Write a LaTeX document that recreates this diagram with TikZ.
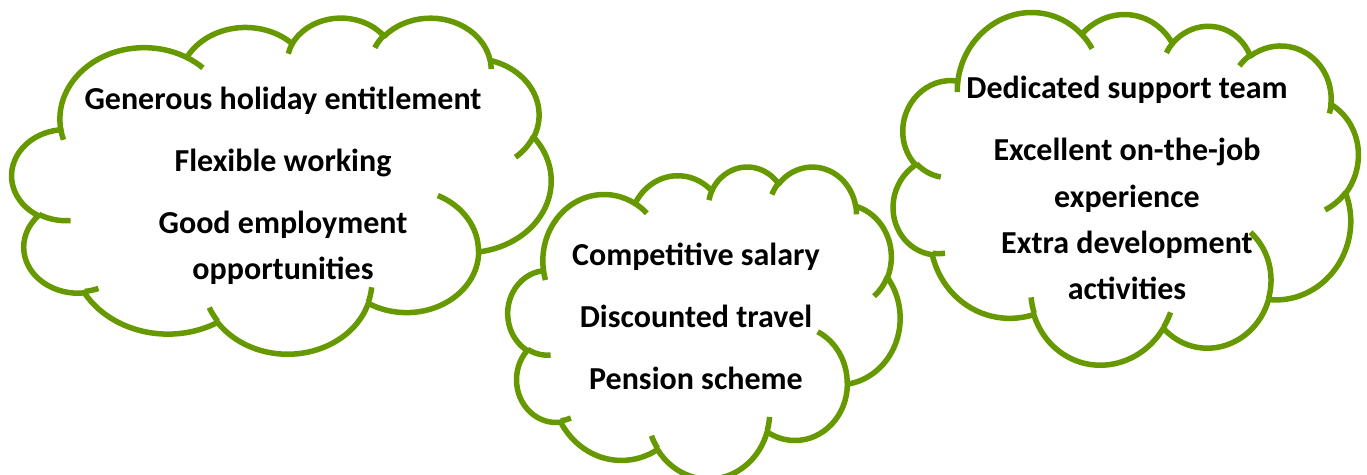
\documentclass[tikz,border=0pt]{standalone}
\usepackage{fontspec}
\setmainfont{Carlito}
\definecolor{cloudgreen}{RGB}{102,153,0}
\tikzset{
  declare function={
    vp(\a,\rx,\ry)=atan2(\rx*sin(\a),\ry*cos(\a));
    dp(\a,\s,\rx,\ry)=vp(\a+\s,\rx,\ry)-vp(\a,\rx,\ry)+360*round((\s-vp(\a+\s,\rx,\ry)+vp(\a,\rx,\ry))/360);
  },
  cloudline/.style={draw=cloudgreen, line width=5.5pt, line join=round},
  cloudtext/.style={font=\bfseries\fontsize{32}{38}\selectfont, text=black, inner sep=0pt, anchor=base},
}
\newcommand\officecloud{%
  \draw[cloudline] (39.00,143.70)
    arc[x radius=67.53, y radius=91.90, start angle={vp(-190.48748,67.53,91.90)}, delta angle={dp(-190.48748,123.78053,67.53,91.90)}]
    arc[x radius=53.33, y radius=72.67, start angle={vp(-144.10238,53.33,72.67)}, delta angle={dp(-144.10238,89.94523,53.33,72.67)}]
    arc[x radius=43.65, y radius=59.45, start angle={vp(-145.80792,43.65,59.45)}, delta angle={dp(-145.80792,99.72302,43.65,59.45)}]
    arc[x radius=48.57, y radius=65.95, start angle={vp(-130.98607,48.57,65.95)}, delta angle={dp(-130.98607,117.24173,48.57,65.95)}]
    arc[x radius=53.33, y radius=72.73, start angle={vp(-78.70888,53.33,72.73)}, delta angle={dp(-78.70888,109.02692,53.33,72.73)}]
    arc[x radius=67.75, y radius=92.20, start angle={vp(-46.26725,67.75,92.20)}, delta angle={dp(-46.26725,130.269,67.75,92.20)}]
    arc[x radius=57.85, y radius=78.67, start angle={vp(0.62502,57.85,78.67)}, delta angle={dp(0.62502,114.03333,57.85,78.67)}]
    arc[x radius=67.52, y radius=92.15, start angle={vp(22.4516,67.52,92.15)}, delta angle={dp(22.4516,115.17255,67.52,92.15)}]
    arc[x radius=77.20, y radius=105.43, start angle={vp(66.24263,77.20,105.43)}, delta angle={dp(66.24263,75.71102,77.20,105.43)}]
    arc[x radius=43.60, y radius=59.18, start angle={vp(-274.94208,43.60,59.18)}, delta angle={dp(-274.94208,146.73557,43.60,59.18)}]
    arc[x radius=43.45, y radius=59.45, start angle={vp(-246.8285,43.45,59.45)}, delta angle={dp(-246.8285,152.51885,43.45,59.45)}]
    -- cycle;
  \draw[cloudline]
    (46.93,261.77) arc[x radius=43.45, y radius=59.45, start angle={vp(86.742,43.45,59.45)}, delta angle={dp(86.742,26.4295,43.45,59.45)}]
    (69.28,348.99) arc[x radius=43.60, y radius=59.18, start angle={vp(73.61047,43.60,59.18)}, delta angle={dp(73.61047,11.44747,43.60,59.18)}]
    (164.78,390.90) arc[x radius=67.52, y radius=92.15, start angle={vp(137.62415,67.52,92.15)}, delta angle={dp(137.62415,14.0811,67.52,92.15)}]
    (288.27,347.51) arc[x radius=67.52, y radius=92.15, start angle={vp(6.45327,67.52,92.15)}, delta angle={dp(6.45327,15.99835,67.52,92.15)}]
    (341.29,229.54) arc[x radius=57.85, y radius=78.67, start angle={vp(-70.29235,57.85,78.67)}, delta angle={dp(-70.29235,70.91737,57.85,78.67)}]
    (417.98,153.54) arc[x radius=53.33, y radius=72.73, start angle={vp(30.31803,53.33,72.73)}, delta angle={dp(30.31803,27.7515,53.33,72.73)}]
    (383.24,54.26) arc[x radius=48.57, y radius=65.95, start angle={vp(-13.74433,48.57,65.95)}, delta angle={dp(-13.74433,14.8508,48.57,65.95)}]
    (290.78,39.52) arc[x radius=48.57, y radius=65.95, start angle={vp(-149.18145,48.57,65.95)}, delta angle={dp(-149.18145,18.197,48.57,65.95)}]
    (221.41,47.20) arc[x radius=43.65, y radius=59.45, start angle={vp(-163.49427,43.65,59.45)}, delta angle={dp(-163.49427,17.69992,43.65,59.45)}]
    (140.00,51.92) arc[x radius=67.53, y radius=91.90, start angle={vp(-66.70695,67.53,91.90)}, delta angle={dp(-66.70695,12.31935,67.53,91.90)}]
    (41.27,157.89) arc[x radius=67.53, y radius=91.90, start angle={vp(157.65435,67.53,91.90)}, delta angle={dp(157.65435,11.85817,67.53,91.90)}];
}
\begin{document}
\begin{tikzpicture}[x=1pt,y=-1pt]
\useasboundingbox (0,0) rectangle (1367,474);
% left cloud
\begin{scope}[shift={(12,17)}, xscale=539/432, yscale=336/432]
  \officecloud
\end{scope}
% middle cloud
\begin{scope}[shift={(508,166)}, xscale=392/432, yscale=312/432]
  \officecloud
\end{scope}
% right cloud (turned a little clockwise)
\begin{scope}[shift={(1124.5,186.9)}, rotate=-15, xscale=460/432, yscale=359/432, shift={(-216,-216)}]
  \officecloud
\end{scope}
% texts
\node[cloudtext] (l1) at (283,109) {Generous holiday entitlement};
\node[cloudtext] (l2) at (283,171) {Flexible working};
\node[cloudtext] (l3) at (283,233) {Good employment};
\node[cloudtext] (l4) at (283,279) {opportunities};
\node[cloudtext] (m1) at (696,265) {Competitive salary};
\node[cloudtext] (m2) at (696,327) {Discounted travel};
\node[cloudtext] (m3) at (696,389) {Pension scheme};
\node[cloudtext] (r1) at (1127,98) {Dedicated support team};
\node[cloudtext] (r2) at (1127,160) {Excellent on-the-job};
\node[cloudtext] (r3) at (1127,207) {experience};
\node[cloudtext] (r4) at (1127,253) {Extra development};
\node[cloudtext] (r5) at (1127,299) {activities};
\end{tikzpicture}
\end{document}
